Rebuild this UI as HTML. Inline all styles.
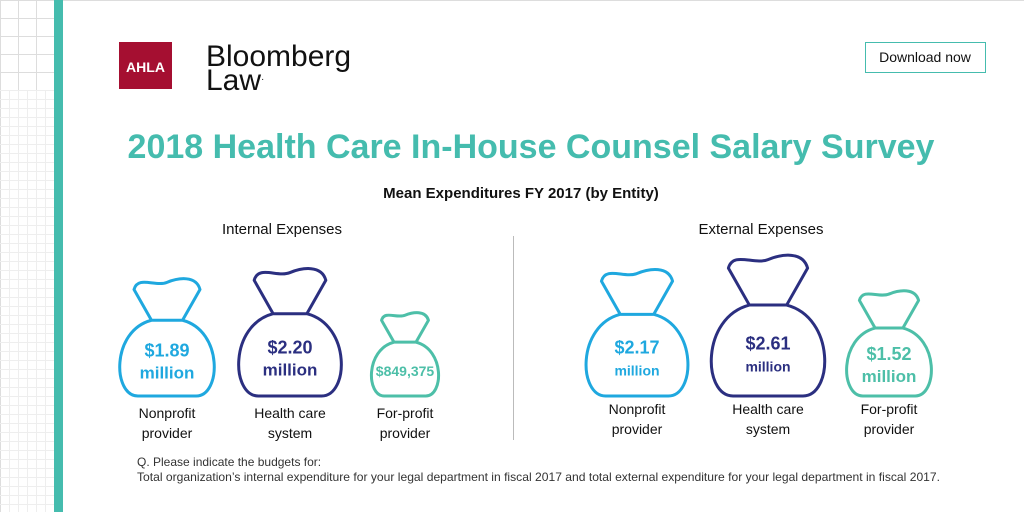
<!DOCTYPE html>
<html><head><meta charset="utf-8"><style>
body{margin:0;width:1024px;height:512px;overflow:hidden;background:#fff;font-family:"Liberation Sans",sans-serif;position:relative}
</style></head><body>
<svg width="1024" height="512" style="position:absolute;left:0;top:0">
<g id="grid"></g>
<rect x="0" y="0" width="1024" height="1" fill="#ddd"/>
<rect x="54" y="0" width="9" height="512" fill="#45bcae"/>
<rect x="119" y="42" width="53" height="47" fill="#a50f31"/>
<text x="145.5" y="72" font-size="14" font-weight="bold" fill="#fff" text-anchor="middle" font-family="Liberation Sans">AHLA</text>
<text x="206" y="66" font-size="30" fill="#111" font-family="Liberation Sans">Bloomberg</text>
<text x="206" y="90" font-size="30" fill="#111" font-family="Liberation Sans">Law<tspan font-size="10" dy="-8">·</tspan></text>
<rect x="865.5" y="42.5" width="120" height="30" fill="#fff" stroke="#45bcae"/>
<text x="925" y="62" font-size="14" fill="#111" text-anchor="middle" font-family="Liberation Sans">Download now</text>
<text x="531" y="158" font-size="34" font-weight="bold" fill="#45bcae" text-anchor="middle" font-family="Liberation Sans">2018 Health Care In-House Counsel Salary Survey</text>
<text x="521" y="198" font-size="15" font-weight="bold" fill="#111" text-anchor="middle" font-family="Liberation Sans">Mean Expenditures FY 2017 (by Entity)</text>
<text x="282" y="234" font-size="15" fill="#111" text-anchor="middle" font-family="Liberation Sans">Internal Expenses</text>
<text x="761" y="234" font-size="15" fill="#111" text-anchor="middle" font-family="Liberation Sans">External Expenses</text>
<line x1="513.5" y1="236" x2="513.5" y2="440" stroke="#bbb"/>
<g id="bags"></g>
<text x="137" y="466" font-size="12" fill="#333" font-family="Liberation Sans">Q. Please indicate the budgets for:</text>
<text x="137" y="481" font-size="12" fill="#333" font-family="Liberation Sans" textLength="803" lengthAdjust="spacingAndGlyphs">Total organization’s internal expenditure for your legal department in fiscal 2017 and total external expenditure for your legal department in fiscal 2017.</text>
</svg>
<script>
const categories=["Nonprofit provider","Health care system","For-profit provider","Nonprofit provider","Health care system","For-profit provider"];
const values=[1.89,2.20,0.849375,2.17,2.61,1.52];
const valueLabels=[["$1.89","million"],["$2.20","million"],["$849,375"],["$2.17","million"],["$2.61","million"],["$1.52","million"]];
const centers=[167,290,405,637,768,889];
const colors=["#1fa8df","#2b2f80","#4dbfa8","#1fa8df","#2b2f80","#4dbfa8"];
const NS="http://www.w3.org/2000/svg";
const g=document.getElementById('grid');
for(let x=0;x<=54;x+=18){const l=document.createElementNS(NS,'line');l.setAttribute('x1',x+.5);l.setAttribute('x2',x+.5);l.setAttribute('y1',0);l.setAttribute('y2',512);l.setAttribute('stroke','#ddd');g.appendChild(l);}
for(let y=18;y<512;y+=18){const l=document.createElementNS(NS,'line');l.setAttribute('x1',0);l.setAttribute('x2',54);l.setAttribute('y1',y+.5);l.setAttribute('y2',y+.5);l.setAttribute('stroke','#ddd');g.appendChild(l);}
for(let y=90;y<512;y+=9){const l=document.createElementNS(NS,'line');l.setAttribute('x1',0);l.setAttribute('x2',54);l.setAttribute('y1',y+.5);l.setAttribute('y2',y+.5);l.setAttribute('stroke','#eee');g.appendChild(l);}
for(let x=9;x<54;x+=9){const l=document.createElementNS(NS,'line');l.setAttribute('x1',x+.5);l.setAttribute('x2',x+.5);l.setAttribute('y1',90);l.setAttribute('y2',512);l.setAttribute('stroke','#eee');g.appendChild(l);}
const bags=document.getElementById('bags');
function wScale(v){return 46+27*v;}
const bottom=396;
values.forEach((v,i)=>{
  const w=wScale(v),h=w*1.22,cx=centers[i],top=bottom-h;
  const X=f=>cx+(f-0.5)*w, Y=f=>top+f*h;
  const d=`M${X(.34)},${Y(.36)} C${X(-.08)},${Y(.45)} ${X(-.06)},${Y(1)} ${X(.2)},${Y(1)} L${X(.8)},${Y(1)} C${X(1.06)},${Y(1)} ${X(1.08)},${Y(.45)} ${X(.66)},${Y(.36)} Z `+
   `M${X(.34)},${Y(.36)} L${X(.16)},${Y(.1)} C${X(.2)},${Y(-.02)} ${X(.38)},${Y(.08)} ${X(.5)},${Y(.04)} C${X(.62)},${Y(.0)} ${X(.8)},${Y(-.02)} ${X(.84)},${Y(.1)} L${X(.66)},${Y(.36)}`;
  const p=document.createElementNS(NS,'path');
  p.setAttribute('d',d);p.setAttribute('fill','#fff');p.setAttribute('stroke',colors[i]);p.setAttribute('stroke-width','3');p.setAttribute('stroke-linejoin','round');
  
  
  bags.appendChild(p);
  const lines=valueLabels[i];const midY=Y(.7);
  lines.forEach((s,k)=>{
    const t=document.createElementNS(NS,'text');
    const fs=lines.length===1?14:(s[0]=='$'?18:(i>=3&&i<5?14:17));
    t.setAttribute('x',cx);t.setAttribute('y',midY+(lines.length===1?5:(k===0?-4:18)));
    t.setAttribute('text-anchor','middle');t.setAttribute('font-size',fs);t.setAttribute('font-weight','bold');t.setAttribute('fill',colors[i]);t.setAttribute('font-family','Liberation Sans');
    t.textContent=s;
    
    
    bags.appendChild(t);
  });
  const parts=categories[i].split(' ');
  const l1=parts.slice(0,parts.length-1).join(' '),l2=parts[parts.length-1];
  const by=i<3?418:414;
  [l1,l2].forEach((s,k)=>{
    const t=document.createElementNS(NS,'text');
    t.setAttribute('x',cx);t.setAttribute('y',by+k*20);t.setAttribute('text-anchor','middle');t.setAttribute('font-size','14');t.setAttribute('fill','#111');t.setAttribute('font-family','Liberation Sans');
    t.textContent=s;
    
    
    bags.appendChild(t);
  });
});
</script>
</body></html>
